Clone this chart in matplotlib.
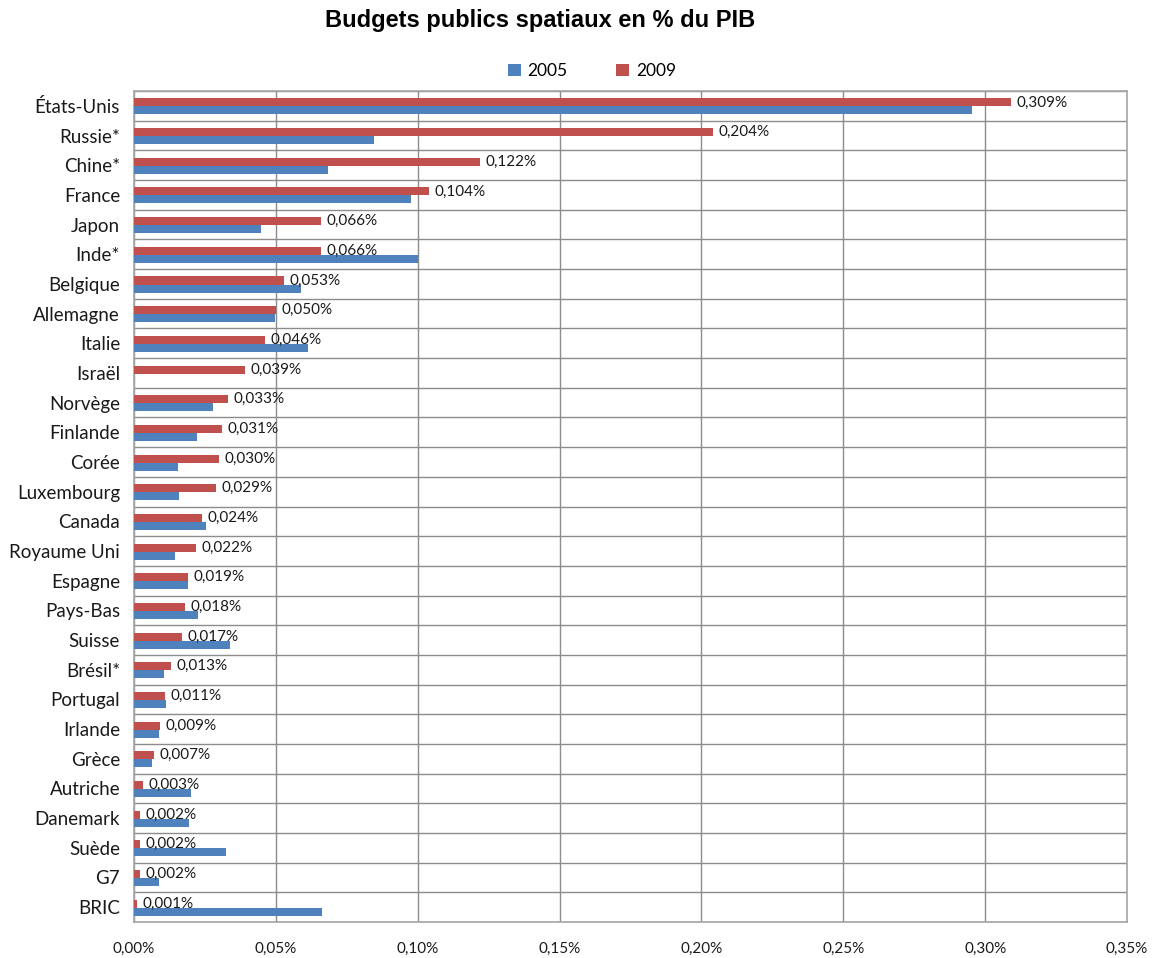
import matplotlib
matplotlib.use("Agg")
import matplotlib.pyplot as plt
from matplotlib.ticker import FuncFormatter, MultipleLocator
import numpy as np

countries = ["États-Unis", "Russie*", "Chine*", "France", "Japon", "Inde*", "Belgique",
             "Allemagne", "Italie", "Israël", "Norvège", "Finlande", "Corée", "Luxembourg",
             "Canada", "Royaume Uni", "Espagne", "Pays-Bas", "Suisse", "Brésil*", "Portugal",
             "Irlande", "Grèce", "Autriche", "Danemark", "Suède", "G7", "BRIC"]

# budget share of GDP, in %
budget_2005 = [0.2954, 0.0846, 0.0684, 0.0976, 0.0448, 0.1001, 0.0589,
               0.0497, 0.0613, 0.0, 0.0278, 0.0222, 0.0155, 0.0159,
               0.0254, 0.0145, 0.0190, 0.0226, 0.0338, 0.0106, 0.0113,
               0.0088, 0.0063, 0.0200, 0.0194, 0.0324, 0.0088, 0.0663]
budget_2009 = [0.309, 0.204, 0.122, 0.104, 0.066, 0.066, 0.053,
               0.050, 0.046, 0.039, 0.033, 0.031, 0.030, 0.029,
               0.024, 0.022, 0.019, 0.018, 0.017, 0.013, 0.011,
               0.009, 0.007, 0.003, 0.002, 0.002, 0.002, 0.001]

years = ["2005", "2009"]
c2005 = "#4F81BD"
c2009 = "#C0504D"
grid_c = "#8C8C8C"
txt_font = ["Lato", "DejaVu Sans"]

fig = plt.figure(figsize=(11.6, 9.58), dpi=100)
ax = fig.add_axes([134 / 1160, 1 - 922 / 958, (1127 - 134) / 1160, (922 - 91) / 958])

y = np.arange(len(countries))
h = 0.27
ax.barh(y + 0.02 - h / 2, budget_2009, height=h, color=c2009, label=years[1], zorder=3)
ax.barh(y + 0.02 + h / 2, budget_2005, height=h, color=c2005, label=years[0], zorder=3)

ax.set_xlim(0, 0.35)
ax.set_ylim(len(countries) - 0.5, -0.5)
ax.xaxis.set_major_locator(MultipleLocator(0.05))
ax.xaxis.set_major_formatter(FuncFormatter(lambda v, p: f"{v:.2f}%".replace(".", ",")))

# vertical gridlines at ticks, horizontal lines between categories
ax.grid(axis="x", color=grid_c, linewidth=1.0, zorder=0)
for b in np.arange(-0.5, len(countries) + 0.5, 1):
    ax.axhline(b, color=grid_c, linewidth=1.0, zorder=0)

ax.set_yticks(y)
ax.set_yticklabels(countries, fontsize=13.5, family=txt_font, color="#1a1a1a")
ax.tick_params(axis="y", length=0, pad=10)
ax.tick_params(axis="x", length=0, pad=14, labelsize=11, labelcolor="#1a1a1a")
for lab in ax.get_xticklabels():
    lab.set_family(txt_font)

for s in ax.spines.values():
    s.set_color("#A6A6A6")
    s.set_linewidth(1.2)

# value labels for 2009
for i, v in enumerate(budget_2009):
    ax.annotate(f"{v:.3f}%".replace(".", ","), xy=(v, i + 0.02 - h / 2),
                xytext=(4, 0), textcoords="offset points", va="center", ha="left",
                fontsize=11, family=txt_font, color="#1a1a1a", zorder=4)

fig.text(540 / 1160, 1 - 21 / 958, "Budgets publics spatiaux en % du PIB",
         ha="center", va="center", fontsize=17, fontweight="bold",
         family=["Liberation Sans", "DejaVu Sans"])

handles, labels = ax.get_legend_handles_labels()
leg = fig.legend(handles[::-1], labels[::-1], loc="center", bbox_to_anchor=(592 / 1160, 1 - 71 / 958),
                 ncol=2, frameon=False, handlelength=0.75, handleheight=0.75,
                 columnspacing=2.8, handletextpad=0.4,
                 prop={"family": txt_font, "size": 12.5})

fig.savefig("out.png", dpi=100)
